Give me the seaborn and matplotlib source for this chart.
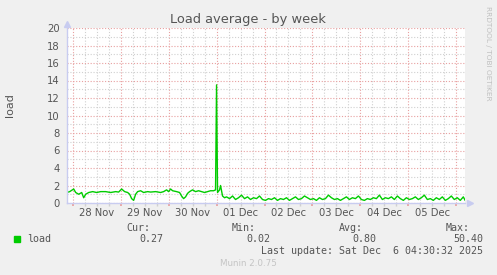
import numpy as np
import pandas as pd
import matplotlib
matplotlib.use("Agg")
import matplotlib.pyplot as plt
import matplotlib.dates as mdates
import seaborn as sns

# ---- data (hours relative to 2025-11-28 00:00) ----
base_time = "2025-11-28 00:00"
hours = [-3.0, -1.5, 0.5, 1.5, 3.0, 4.5, 5.5, 6.5, 8.0, 10, 12, 14, 16.5, 19, 21.5, 23,
         24.5, 26, 27.5, 28.5, 29.5, 30.5, 31.5, 32.5, 34, 35.5, 37.5, 39, 41.5, 44, 45.5,
         47, 48, 49, 50, 52, 53.5, 54.5, 55.5, 56.5, 57.5, 58.5, 60, 61.5, 63, 64.5, 66,
         67.5, 69, 70.5, 71.5, 72.0, 72.5, 73.5, 74.0, 75.0, 76.0,
         77, 78.5, 80, 81.5, 83, 84.5, 86, 87.5, 89, 90.5, 92, 93.5, 95, 96.5, 98, 99.5,
         101, 102.5, 104, 105.5, 107, 108.5, 110, 111.5, 113, 114.5, 116, 117.5, 119, 120.5,
         122, 123.5, 125, 126.5, 128, 129.5, 131, 132.5, 134, 135.5, 137, 138.5, 140, 141.5,
         143, 144.5, 146, 147.5, 149, 150.5, 152, 153.5, 155, 156.5, 158, 159.5, 161, 162.5,
         164, 165.5, 167, 168.5, 170, 171.5, 173, 174.5, 176, 177.5, 179, 180.5, 182, 183.5,
         185, 186.5, 188, 189.5, 191, 192.5, 194, 195.5, 196.5]
load = [1.2, 1.3, 1.6, 1.2, 1.0, 1.2, 0.6, 1.0, 1.2, 1.3, 1.2, 1.3, 1.3, 1.2, 1.3, 1.25,
        1.6, 1.3, 1.2, 1.0, 0.5, 0.3, 1.0, 1.3, 1.4, 1.2, 1.3, 1.25, 1.3, 1.2, 1.3,
        1.5, 1.3, 1.6, 1.4, 1.3, 1.2, 0.8, 0.5, 0.7, 1.1, 1.3, 1.5, 1.3, 1.4, 1.3, 1.2,
        1.3, 1.4, 1.4, 1.5, 13.5, 1.2, 1.5, 2.0, 0.8, 0.6,
        0.7, 0.5, 0.8, 0.4, 0.6, 0.9, 0.5, 0.7, 0.4, 0.6, 0.5, 0.8, 0.4, 0.3, 0.5, 0.4,
        0.6, 0.3, 0.5, 0.4, 0.6, 0.3, 0.5, 0.7, 0.4, 0.5, 0.8, 0.6, 0.4, 0.5,
        0.3, 0.6, 0.4, 0.5, 0.9, 0.6, 0.4, 0.5, 0.3, 0.5, 0.7, 0.4, 0.6, 0.5,
        0.8, 0.4, 0.3, 0.5, 0.4, 0.6, 0.5, 0.9, 0.4, 0.6, 0.5, 0.7, 0.4, 0.8,
        0.5, 0.3, 0.6, 0.4, 0.5, 0.7, 0.4, 0.6, 0.9, 0.4, 0.5, 0.3, 0.6, 0.4,
        0.7, 0.3, 0.5, 0.8, 0.4, 0.6, 0.3, 0.7, 0.27]
day_labels = ["28 Nov", "29 Nov", "30 Nov", "01 Dec", "02 Dec", "03 Dec", "04 Dec", "05 Dec"]
y_ticks = [0, 2, 4, 6, 8, 10, 12, 14, 16, 18, 20]
legend_stats = {"Cur:": "0.27", "Min:": "0.02", "Avg:": "0.80", "Max:": "50.40"}
title = "Load average - by week"
last_update = "Last update: Sat Dec  6 04:30:32 2025"

# ---- figure ----
sns.set_theme(style="white")
plt.rcParams["font.family"] = ["DejaVu Sans"]
W, H = 497, 275
fig = plt.figure(figsize=(W / 100, H / 100), dpi=100, facecolor="#F0F0F0")
ax = fig.add_axes([66.7 / W, 1 - 203 / H, 398.6 / W, 175 / H])
ax.set_facecolor("white")

t0 = pd.Timestamp(base_time)
df = pd.DataFrame({"time": t0 + pd.to_timedelta(hours, unit="h"), "load": load})
sns.lineplot(data=df, x="time", y="load", ax=ax, color="#00CC00", linewidth=1.0)

ax.set_xlim(t0 - pd.Timedelta(hours=3), t0 + pd.Timedelta(hours=196.5))
ax.set_ylim(0, 20)

txt = "#555555"
red = "#E8A0A0"
grey = "#D0D0D0"
dots = (0, (1, 1.6))

# y axis
ax.set_yticks(y_ticks)
ax.set_yticklabels([str(v) for v in y_ticks])
ax.set_yticks(np.arange(1, 20, 2), minor=True)
ax.grid(which="major", axis="y", color=red, linestyle=dots, linewidth=0.8)
ax.grid(which="minor", axis="y", color=grey, linestyle=dots, linewidth=0.8)

# x axis: midnights major, 6h minor
ax.xaxis.set_major_locator(mdates.DayLocator())
ax.xaxis.set_minor_locator(mdates.HourLocator(byhour=[6, 12, 18]))
ax.xaxis.set_major_formatter(plt.NullFormatter())
ax.grid(which="major", axis="x", color=red, linestyle=dots, linewidth=0.8)
ax.grid(which="minor", axis="x", color=grey, linestyle=dots, linewidth=0.8)
ax.set_axisbelow(True)

for i, lab in enumerate(day_labels):
    ax.text(t0 + pd.Timedelta(hours=12 + 24 * i), -1.1, lab, ha="center", va="center",
            fontsize=7.2, color=txt)

ax.tick_params(axis="y", which="major", length=2, color=grey, labelsize=7.2, labelcolor=txt, pad=3)
ax.tick_params(axis="y", which="minor", length=2, color=grey)
ax.tick_params(axis="x", which="major", length=2, color=red, bottom=True)
ax.tick_params(axis="x", which="minor", length=2, color=grey, bottom=True)

for s in ["top", "right"]:
    ax.spines[s].set_visible(False)
for s in ["left", "bottom"]:
    ax.spines[s].set_color("#C8CCF0")
    ax.spines[s].set_linewidth(1.0)
ax.set_xlabel("")
ax.set_ylabel("")

# axis arrows
ax.plot([0], [1.025], marker="^", markersize=4, color="#C8CCF0", transform=ax.transAxes, clip_on=False)
ax.plot([1.012], [0], marker=">", markersize=4, color="#C8CCF0", transform=ax.transAxes, clip_on=False)

def ft(x, y, s, **kw):
    fig.text(x / W, 1 - y / H, s, **kw)

ft(248, 19, title, ha="center", va="center", fontsize=9.4, color=txt)
ft(10, 105, "load", ha="center", va="center", rotation=90, fontsize=8, color=txt)
ft(488, 53, "RRDTOOL / TOBI OETIKER", ha="center", va="center", rotation=270,
   fontsize=5.3, color="#C0C0C0")

mono = dict(family="DejaVu Sans Mono", fontsize=7.2, color=txt)
fig.patches.append(plt.Rectangle((14 / W, 1 - 242 / H), 6 / W, 6 / H, transform=fig.transFigure,
                                 color="#00CC00"))
ft(27, 239, "load", ha="left", va="center", **mono)
label_right = [150, 256, 363, 470]
value_right = [163, 270, 376, 483]
for (k, v), lr, vr in zip(legend_stats.items(), label_right, value_right):
    ft(lr, 228, k, ha="right", va="center", **mono)
    ft(vr, 239, v, ha="right", va="center", **mono)
ft(483, 251, last_update, ha="right", va="center", **mono)
ft(248, 264, "Munin 2.0.75", ha="center", va="center", fontsize=6.3, color="#C4C4C4")

fig.savefig("out.png", dpi=100, facecolor=fig.get_facecolor())
